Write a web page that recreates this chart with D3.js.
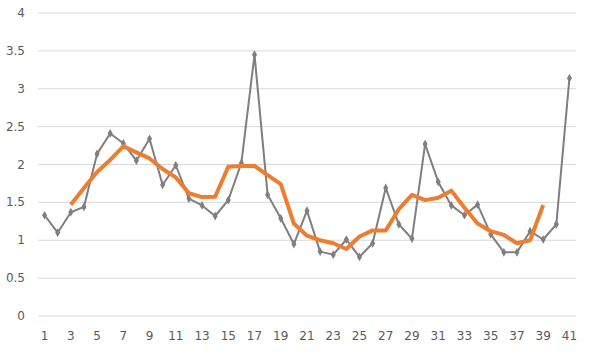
<!DOCTYPE html>
<html lang="en">
<head>
<meta charset="UTF-8">
<script src="https://d3js.org/d3.v7.min.js"></script>
<style>
    body { margin: 0; background: #fff; }
    svg { font-family: "DejaVu Sans", sans-serif; }
</style>
</head>
<body>
<div id="chart"></div>
<script>
    // données
    const semaines = d3.range(1, 42);
    const valeurs = [1.33, 1.10, 1.37, 1.44, 2.14, 2.41, 2.28, 2.05, 2.34, 1.73,
        1.99, 1.55, 1.46, 1.32, 1.53, 2.02, 3.45, 1.60, 1.29, 0.95,
        1.39, 0.85, 0.81, 1.01, 0.78, 0.96, 1.69, 1.21, 1.02, 2.27,
        1.77, 1.46, 1.33, 1.47, 1.08, 0.84, 0.84, 1.12, 1.01, 1.21, 3.14];
    // moyenne mobile (semaines 3 à 39)
    const moyenneSemaines = d3.range(3, 40);
    const moyenne = [1.47, 1.69, 1.90, 2.06, 2.24, 2.16, 2.08, 1.94, 1.83, 1.62,
        1.57, 1.575, 1.97, 1.98, 1.98, 1.86, 1.74, 1.22, 1.06, 1.00,
        0.96, 0.885, 1.05, 1.13, 1.13, 1.41, 1.60, 1.53, 1.56, 1.655,
        1.43, 1.22, 1.12, 1.07, 0.96, 1.00, 1.465];
    const yTicks = [0, 0.5, 1, 1.5, 2, 2.5, 3, 3.5, 4];
    const xTicks = d3.range(1, 42, 2);

    const width = 592, height = 352;
    const margin = { top: 13, right: 16, bottom: 36, left: 38 };

    const svg = d3.select("#chart").append("svg")
        .attr("width", width)
        .attr("height", height);

    const x = d3.scaleBand()
        .domain(semaines)
        .range([margin.left, width - margin.right]);

    const y = d3.scaleLinear()
        .domain([0, 4])
        .range([height - margin.bottom, margin.top]);

    const cx = d => x(d) + x.bandwidth() / 2;

    // grille
    svg.append("g")
        .selectAll("line")
        .data(yTicks)
        .join("line")
        .attr("x1", margin.left)
        .attr("x2", width - margin.right)
        .attr("y1", d => y(d))
        .attr("y2", d => y(d))
        .attr("stroke", "#d9d9d9")
        .attr("stroke-width", 1);

    // étiquettes axe Y
    svg.append("g")
        .selectAll("text")
        .data(yTicks)
        .join("text")
        .attr("x", 25)
        .attr("y", d => y(d) + 4)
        .attr("text-anchor", "end")
        .attr("font-size", 12)
        .attr("fill", "#595959")
        .text(d => d);

    // étiquettes axe X
    svg.append("g")
        .selectAll("text")
        .data(xTicks)
        .join("text")
        .attr("x", d => cx(d))
        .attr("y", 340)
        .attr("text-anchor", "middle")
        .attr("font-size", 12)
        .attr("fill", "#595959")
        .text(d => d);

    // série grise
    const ligne = d3.line()
        .x((d, i) => cx(semaines[i]))
        .y(d => y(d));

    svg.append("path")
        .datum(valeurs)
        .attr("fill", "none")
        .attr("stroke", "#7f7f7f")
        .attr("stroke-width", 2)
        .attr("stroke-linejoin", "round")
        .attr("d", ligne);

    svg.append("g")
        .selectAll("path")
        .data(valeurs)
        .join("path")
        .attr("d", d3.symbol().type(d3.symbolDiamond).size(22))
        .attr("transform", (d, i) => `translate(${cx(semaines[i])},${y(d)})`)
        .attr("fill", "#7f7f7f");

    // moyenne mobile orange
    const ligneMoy = d3.line()
        .x((d, i) => cx(moyenneSemaines[i]))
        .y(d => y(d));

    svg.append("path")
        .datum(moyenne)
        .attr("fill", "none")
        .attr("stroke", "#ed7d31")
        .attr("stroke-width", 4)
        .attr("stroke-linejoin", "round")
        .attr("d", ligneMoy);
</script>
</body>
</html>
